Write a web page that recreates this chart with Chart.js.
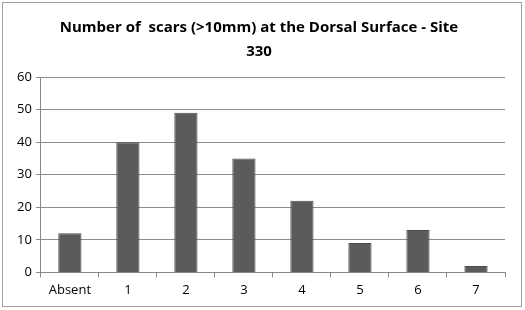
<!DOCTYPE html>
<html>
<head>
<meta charset="utf-8">
<script src="https://cdn.jsdelivr.net/npm/chart.js@4"></script>
<style>
  body { margin: 0; background: #fff; }
  #wrap { position: absolute; left: 2px; top: 2px; width: 518px; height: 303px; border: 1px solid #a0a0a0; }
  #chart { position: absolute; left: 0; top: 0; }
</style>
</head>
<body>
<div id="wrap"></div>
<canvas id="chart" width="525" height="310"></canvas>
<script>
const categories = ["Absent", "1", "2", "3", "4", "5", "6", "7"];
const scarCounts = [12, 40, 49, 35, 22, 9, 13, 2];
const yTicks = [0, 10, 20, 30, 40, 50, 60];

const ctx = document.getElementById("chart").getContext("2d");
new Chart(ctx, {
  type: "bar",
  data: {
    labels: categories,
    datasets: [
      {
        data: scarCounts,
        backgroundColor: "#5b5b5b",
        borderColor: "#4a4a4a",
        borderWidth: 1,
        barPercentage: 0.4,
        categoryPercentage: 1,
      },
    ],
  },
  options: {
    responsive: false,
    animation: false,
    layout: { padding: { left: 13, right: 20, top: 6, bottom: 7 } },
    plugins: {
      legend: { display: false },
      tooltip: { enabled: false },
      title: {
        display: true,
        text: ["Number of  scars (>10mm) at the Dorsal Surface - Site", "330"],
        color: "#000",
        font: { family: "Open Sans", size: 15, weight: "bold", lineHeight: 1.6 },
        padding: { top: 10, bottom: 13 },
      },
    },
    scales: {
      x: {
        grid: {
          offset: true,
          drawOnChartArea: false,
          color: "#888",
          tickLength: 5,
        },
        border: { color: "#888" },
        ticks: { color: "#000", font: { family: "Open Sans", size: 13 }, padding: 5 },
      },
      y: {
        min: 0,
        max: 60,
        afterBuildTicks: (axis) => {
          axis.ticks = yTicks.map((v) => ({ value: v }));
        },
        grid: { color: "#8c8c8c", tickLength: 5 },
        border: { color: "#888" },
        ticks: { color: "#000", font: { family: "Open Sans", size: 13 }, padding: 4 },
      },
    },
  },
});
</script>
</body>
</html>
